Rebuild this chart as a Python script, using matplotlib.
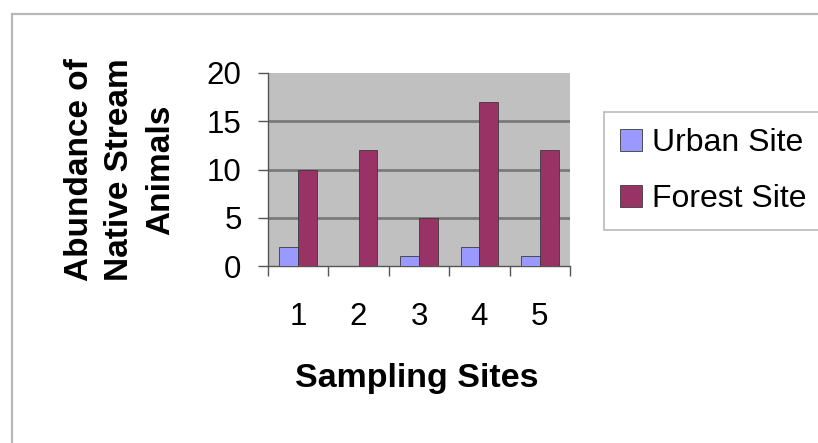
import matplotlib
matplotlib.use("Agg")
import matplotlib.pyplot as plt  # noqa: E402
from matplotlib.lines import Line2D  # noqa: E402
from matplotlib.ticker import FixedLocator, NullFormatter  # noqa: E402

SITES = ["1", "2", "3", "4", "5"]
URBAN = [2, 0, 1, 2, 1]
FOREST = [10, 12, 5, 17, 12]
Y_TICKS = [0, 5, 10, 15, 20]

URBAN_C = "#9999FF"
FOREST_C = "#993366"
FONT = "Liberation Sans"

W, H = 818, 443
fig = plt.figure(figsize=(W / 100, H / 100), dpi=100)

# light grey chart-area frame (top + left edges visible)
fig.add_artist(Line2D([12 / W, 12 / W], [0, 1 - 14 / H], color="#b8b8b8",
                      lw=1.6, transform=fig.transFigure))
fig.add_artist(Line2D([12 / W, 1], [1 - 14 / H, 1 - 14 / H], color="#b8b8b8",
                      lw=1.6, transform=fig.transFigure))

ax = fig.add_axes([268 / W, 1 - 266 / H, 302 / W, 193 / H])
ax.set_facecolor("#C0C0C0")

xs = range(len(SITES))
bw = 0.31
ax.bar([x - bw / 2 for x in xs], URBAN, width=bw, color=URBAN_C,
       edgecolor="#3a3a3a", lw=0.6, label="Urban Site", zorder=3)
ax.bar([x + bw / 2 for x in xs], FOREST, width=bw, color=FOREST_C,
       edgecolor="#3a3a3a", lw=0.6, label="Forest Site", zorder=3)

ax.set_xlim(-0.5, len(SITES) - 0.5)
ax.set_ylim(0, 20)
ax.set_yticks(Y_TICKS)
ax.set_yticklabels([str(v) for v in Y_TICKS], family=FONT, fontsize=22.5)
ax.tick_params(axis="y", direction="out", length=7, width=1, color="#555555",
               pad=12)
for v in Y_TICKS[1:-1]:
    ax.axhline(v, color="#7a7a7a", lw=2, zorder=1)

# category separators as major ticks, labels on minor ticks
ax.xaxis.set_major_locator(FixedLocator([x - 0.5 for x in range(len(SITES) + 1)]))
ax.xaxis.set_major_formatter(NullFormatter())
ax.xaxis.set_minor_locator(FixedLocator(list(xs)))
ax.set_xticklabels(SITES, minor=True, family=FONT, fontsize=22.5)
ax.tick_params(axis="x", which="major", direction="out", length=7, width=1,
               color="#555555")
ax.tick_params(axis="x", which="minor", length=0, pad=26)

for s in ("top", "right"):
    ax.spines[s].set_visible(False)
for s in ("left", "bottom"):
    ax.spines[s].set_color("#555555")
    ax.spines[s].set_linewidth(1)

fig.text(417 / W, 1 - 378 / H, "Sampling Sites", family=FONT, fontsize=24.5,
         fontweight="bold", ha="center", va="center")
fig.text(120 / W, 1 - 170 / H, "Abundance of\nNative Stream\nAnimals",
         family=FONT, fontsize=24, fontweight="bold", rotation=90,
         ha="center", va="center", multialignment="center", linespacing=1.4)

leg = fig.legend(loc="upper left", bbox_to_anchor=(604 / W, 1 - 112 / H),
                 prop={"family": FONT, "size": 23}, frameon=True, fancybox=False,
                 handlelength=0.7, handleheight=0.7, handletextpad=0.3,
                 labelspacing=0.82, borderpad=0.5, borderaxespad=0)
leg.get_frame().set_edgecolor("#a8a8a8")
leg.get_frame().set_linewidth(1.2)

fig.savefig("out.png", dpi=100)
